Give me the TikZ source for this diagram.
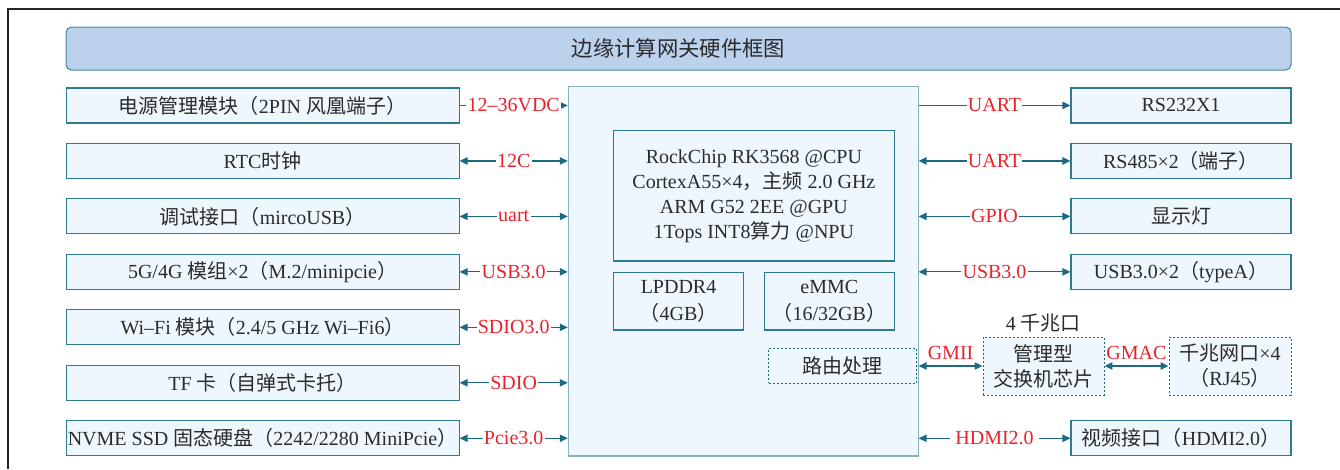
\documentclass[tikz,border=0pt]{standalone}
\usepackage{fontspec}
\setmainfont{Liberation Serif}
\newfontfamily\cjk{Noto Sans CJK SC}
\usepackage{tikz}
\usetikzlibrary{arrows.meta}
\usetikzlibrary{positioning}

\definecolor{boxline}{HTML}{2E7A92}
\definecolor{boxfill}{HTML}{EEF7FD}
\definecolor{coreline}{HTML}{86B2C3}
\definecolor{titlefill}{HTML}{BBD1EC}
\definecolor{titleline}{HTML}{4A8AA0}
\definecolor{linkcol}{HTML}{1D6A80}
\definecolor{labelred}{HTML}{E8232C}
\definecolor{textgray}{HTML}{2B2B2B}

\newcommand{\zh}[1]{{\cjk #1}}

\begin{document}
\begin{tikzpicture}
  [
    node distance = 14.55pt and 20pt,
    > = {Triangle[length=6pt, width=5.5pt]},
    box/.style = {draw=boxline, line width=0.8pt, fill=boxfill, text=textgray,
                  align=center, inner sep=1pt,
                  font=\fontsize{15pt}{18.75pt}\selectfont},
    lbox/.style = {box, minimum width=294.75pt, minimum height=26.25pt},
    rbox/.style = {box, minimum width=165pt, minimum height=26.25pt},
    inbox/.style = {box, minimum height=43pt, font=\fontsize{15pt}{20pt}\selectfont},
    dbox/.style = {box, draw=linkcol, line width=0.7pt, dash pattern=on 1.5pt off 1.5pt},
    link/.style = {draw=linkcol, line width=0.9pt},
    lbl/.style = {text=labelred, fill=white, inner sep=1pt,
                  font=\fontsize{15pt}{17pt}\selectfont},
  ]

  \useasboundingbox (0,0) rectangle (1005pt,-351.75pt);
  % outer frame
  \draw[line width=0.9pt, draw=black!85] (6pt,-351.75pt) -- (6pt,-6.75pt) -- (1005pt,-6.75pt);

  \node[box, draw=titleline, fill=titlefill, rounded corners=4pt,
        minimum width=918.75pt, minimum height=32.25pt,
        font=\fontsize{16pt}{18pt}\selectfont] (title) at (508.9pt,-36.4pt)
    {\zh{边缘计算网关硬件框图}};

  % core board
  \node[box, draw=coreline, minimum width=262.3pt, minimum height=277pt] (core) at (557.4pt,-203.5pt) {};
  \node[box, minimum width=210.7pt, minimum height=97.7pt,
        font=\fontsize{15pt}{18.75pt}\selectfont] (cpu) at (565.4pt,-146.9pt)
    {RockChip RK3568 @CPU\\CortexA55×4\zh{，主频} 2.0 GHz\\ARM G52 2EE @GPU\\1Tops INT8\zh{算力} @NPU};
  \node[inbox, minimum width=97.8pt] (ram) at (508.9pt,-226pt) {LPDDR4\\\zh{（}4GB\zh{）}};
  \node[inbox, minimum width=97.5pt] (emmc) at (622pt,-226pt) {eMMC\\\zh{（}16/32GB\zh{）}};
  \node[dbox, minimum width=111pt, minimum height=26pt] (route) at (632pt,-274.5pt) {\zh{路由处理}};

  % left column
  \node[lbox] (power) at (196.9pt,-79.1pt) {\zh{电源管理模块（}2PIN \zh{风凰端子）}};
  \node[lbox] [below = of power] (rtc) {RTC\zh{时钟}};
  \node[lbox] [below = of rtc] (debug) {\zh{调试接口（}mircoUSB\zh{）}};
  \node[lbox] [below = of debug] (cell) {5G/4G \zh{模组}×2\zh{（}M.2/minipcie\zh{）}};
  \node[lbox] [below = of cell] (wifi) {Wi--Fi \zh{模块（}2.4/5 GHz Wi--Fi6\zh{）}};
  \node[lbox] [below = of wifi] (tf) {TF \zh{卡（自弹式卡托）}};
  \node[lbox] [below = of tf] (ssd) {NVME SSD \zh{固态硬盘（}2242/2280 MiniPcie\zh{）}};

  % right column
  \node[rbox] (rs232) at (885.75pt,-79.1pt) {RS232X1};
  \node[rbox] [below = of rs232] (rs485) {RS485×2\zh{（端子）}};
  \node[rbox] [below = of rs485] (lamp) {\zh{显示灯}};
  \node[rbox] [below = of lamp] (usb) {USB3.0×2\zh{（}typeA\zh{）}};
  \node[rbox] at (rs232 |- ssd) (hdmi) {\zh{视频接口（}HDMI2.0\zh{）}};

  % network
  \node[dbox, minimum width=90.75pt, minimum height=43.5pt] (switch) at (782.6pt,-274.5pt)
    {\zh{管理型}\\\zh{交换机芯片}};
  \node[dbox, draw=linkcol, minimum width=91.5pt, minimum height=43.5pt] (rj45) at (922.5pt,-274.5pt)
    {\zh{千兆网口}×4\\\zh{（}RJ45\zh{）}};
  \node[text=textgray, inner sep=1pt, font=\fontsize{15pt}{17pt}\selectfont]
    [above = 2pt of switch] (ports) {4 \zh{千兆口}};

  % links, left
  \draw[link, ->] (power.east) -- (power.east -| core.west) node[lbl, midway] {12--36VDC};
  \draw[link, <->] (rtc.east) -- (rtc.east -| core.west) node[lbl, midway] {12C};
  \draw[link, <->] (debug.east) -- (debug.east -| core.west) node[lbl, midway] {uart};
  \draw[link, <->] (cell.east) -- (cell.east -| core.west) node[lbl, midway] {USB3.0};
  \draw[link, <->] (wifi.east) -- (wifi.east -| core.west) node[lbl, midway] {SDIO3.0};
  \draw[link, <->] (tf.east) -- (tf.east -| core.west) node[lbl, midway] {SDIO};
  \draw[link, <->] (ssd.east) -- (ssd.east -| core.west) node[lbl, midway] {Pcie3.0};

  % links, right
  \draw[link, ->] (rs232.west -| core.east) -- (rs232.west) node[lbl, midway] {UART};
  \draw[link, <->] (rs485.west -| core.east) -- (rs485.west) node[lbl, midway] {UART};
  \draw[link, <->] (lamp.west -| core.east) -- (lamp.west) node[lbl, midway] {GPIO};
  \draw[link, <->] (usb.west -| core.east) -- (usb.west) node[lbl, midway] {USB3.0};
  \draw[link, <->] (hdmi.west -| core.east) -- (hdmi.west) node[lbl, midway, inner xsep=4pt] {HDMI2.0};
  \draw[link, <->] (switch.west -| core.east) -- (switch.west) node[lbl, midway, above=3pt] {GMII};
  \draw[link, <->] (switch.east) -- (rj45.west) node[lbl, midway, above=3pt] {GMAC};

\end{tikzpicture}
\end{document}
